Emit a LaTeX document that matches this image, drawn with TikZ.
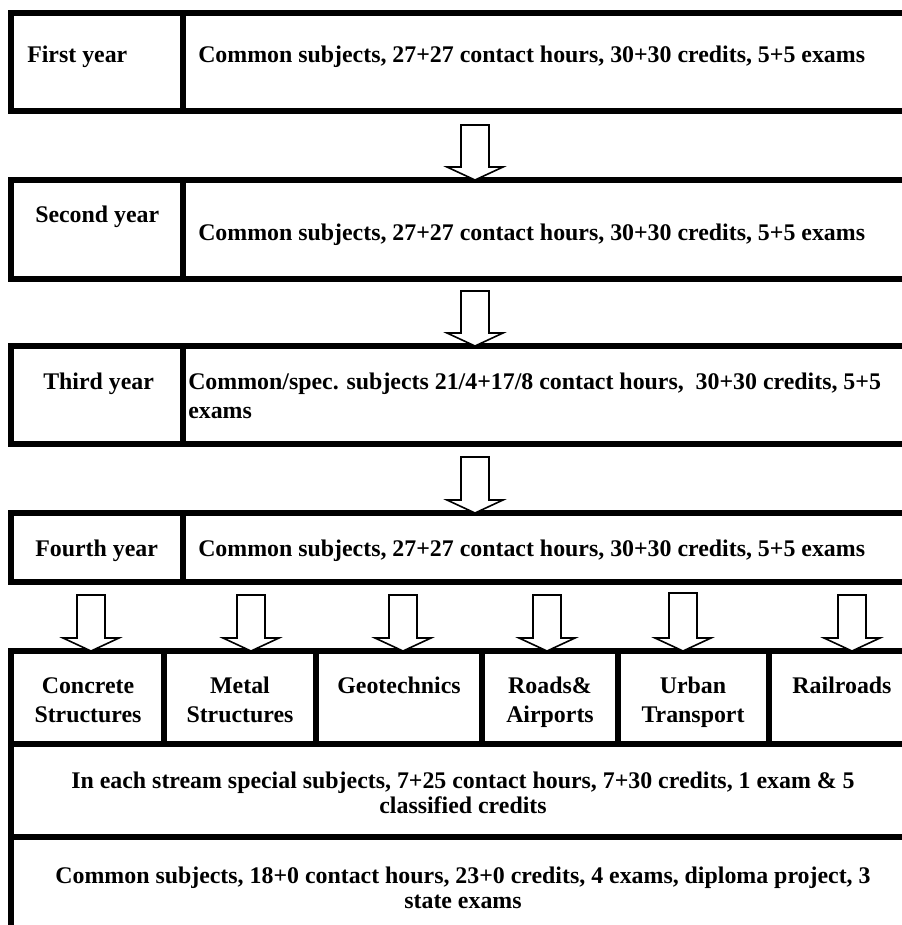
\documentclass[tikz,border=0pt]{standalone}
\usepackage{fontspec}
\setmainfont{Liberation Serif}
\usetikzlibrary{calc}

\tikzset{
	cell/.style={draw, line width=4.3pt, outer sep=0pt, inner sep=0pt, anchor=north west},
	txt/.style={inner sep=0pt, font=\bfseries\fontsize{17.9pt}{21.75pt}\selectfont},
	rowtxt/.style={inner sep=0pt, align=center, font=\bfseries\fontsize{17.9pt}{18.75pt}\selectfont},
	blockarrow/.style={draw, fill=white, line width=1.2pt, to path={
		($(\tikztostart)+(-14,0)$) -- ($(\tikztostart)+(14,0)$) -- ($(\tikztotarget)+(14,-13)$)
		-- ($(\tikztotarget)+(28,-13)$) -- (\tikztotarget) -- ($(\tikztotarget)+(-28,-13)$)
		-- ($(\tikztotarget)+(-14,-13)$) -- cycle}}
}

\begin{document}
\begin{tikzpicture}[x=0.75pt,y=-0.75pt]
		\useasboundingbox (0,0) rectangle (902,925);
		\clip (0,0) rectangle (902,925);
		
		\node[cell, minimum width=129pt, minimum height=73.5pt] (first) at (11,13) {};
		\node[cell, minimum width=549pt, minimum height=73.5pt] (first_info) at (183,13) {};
		\node[cell, minimum width=129pt, minimum height=74.25pt] (second) at (11,180) {};
		\node[cell, minimum width=549pt, minimum height=74.25pt] (second_info) at (183,180) {};
		\node[cell, minimum width=129pt, minimum height=73.5pt] (third) at (11,346) {};
		\node[cell, minimum width=549pt, minimum height=73.5pt] (third_info) at (183,346) {};
		\node[cell, minimum width=129pt, minimum height=51.75pt] (fourth) at (11,513) {};
		\node[cell, minimum width=549pt, minimum height=51.75pt] (fourth_info) at (183,513) {};
		
		\node[cell, minimum width=114.75pt, minimum height=69.75pt] (concrete) at (11,651) {};
		\node[cell, minimum width=114pt, minimum height=69.75pt] (metal) at (164,651) {};
		\node[cell, minimum width=124.5pt, minimum height=69.75pt] (geo) at (316,651) {};
		\node[cell, minimum width=102pt, minimum height=69.75pt] (roads) at (482,651) {};
		\node[cell, minimum width=113.25pt, minimum height=69.75pt] (urban) at (618,651) {};
		\node[cell, minimum width=109.5pt, minimum height=69.75pt] (rail) at (769,651) {};
		\node[cell, minimum width=678pt, minimum height=69.75pt] (special) at (11,744) {};
		\node[cell, minimum width=678pt, minimum height=77.25pt] (final) at (11,837) {};
		
		\node[txt, anchor=base west] (first_lbl) at (27,62) {First year};
		\node[txt, anchor=base west] (first_txt) at (198,62) {Common subjects, 27+27 contact hours, 30+30 credits, 5+5 exams};
		\node[txt, anchor=base west] (second_lbl) at (35,222) {Second year};
		\node[txt, anchor=base west] (second_txt) at (198,240) {Common subjects, 27+27 contact hours, 30+30 credits, 5+5 exams};
		\node[txt, anchor=base west] (third_lbl) at (43,389) {Third year};
		\node[txt, anchor=base west, align=left] (third_txt) at (188,418) {Common/spec. subjects 21/4+17/8 contact hours, \ 30+30 credits, 5+5\\exams};
		\node[txt, anchor=base west] (fourth_lbl) at (35,556) {Fourth year};
		\node[txt, anchor=base west] (fourth_txt) at (198,556) {Common subjects, 27+27 contact hours, 30+30 credits, 5+5 exams};
		
		% two-line labels: base is the last line
		\node[txt, anchor=base, align=center] (concrete_lbl) at (88,722) {Concrete\\Structures};
		\node[txt, anchor=base, align=center] (metal_lbl) at (240,722) {Metal\\Structures};
		\node[txt, anchor=base] (geo_lbl) at (399,693) {Geotechnics};
		\node[txt, anchor=base, align=center] (roads_lbl) at (550,722) {Roads\&\\Airports};
		\node[txt, anchor=base, align=center] (urban_lbl) at (693,722) {Urban\\Transport};
		\node[txt, anchor=base] (rail_lbl) at (842,693) {Railroads};
		
		\node[rowtxt, anchor=base] (special_txt) at (463,813) {In each stream special subjects, 7+25 contact hours, 7+30 credits, 1 exam \& 5\\classified credits};
		\node[rowtxt, anchor=base] (final_txt) at (463,908) {Common subjects, 18+0 contact hours, 23+0 credits, 4 exams, diploma project, 3\\state exams};
		
		\coordinate (a1) at (475,125);
		\coordinate (a2) at (475,291);
		\coordinate (a3) at (475,457);
		\draw[blockarrow] (a1) to (a1 |- second_info.north);
		\draw[blockarrow] (a2) to (a2 |- third_info.north);
		\draw[blockarrow] (a3) to (a3 |- fourth_info.north);
		
		\coordinate (b1) at (91,595);
		\coordinate (b2) at (251,595);
		\coordinate (b3) at (403,595);
		\coordinate (b4) at (547,595);
		\coordinate (b5) at (683,593);
		\coordinate (b6) at (852,595);
		\draw[blockarrow] (b1) to (b1 |- concrete.north);
		\draw[blockarrow] (b2) to (b2 |- metal.north);
		\draw[blockarrow] (b3) to (b3 |- geo.north);
		\draw[blockarrow] (b4) to (b4 |- roads.north);
		\draw[blockarrow] (b5) to (b5 |- urban.north);
		\draw[blockarrow] (b6) to (b6 |- rail.north);
	\end{tikzpicture}
\end{document}
